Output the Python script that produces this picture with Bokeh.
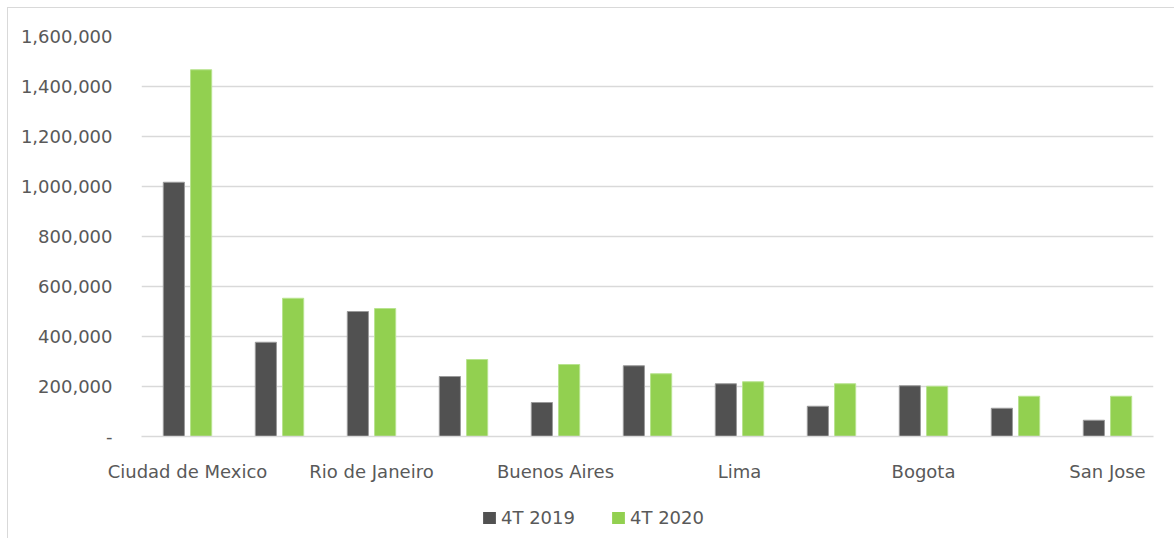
from bokeh.plotting import figure
from bokeh.layouts import column
from bokeh.models import (ColumnDataSource, FixedTicker, NumeralTickFormatter,
                          Legend, LegendItem, Range1d, InlineStyleSheet)
from bokeh.transform import dodge
from bokeh.embed import file_html
from bokeh.resources import INLINE

cities = ["Ciudad de Mexico", "Sao Paulo", "Rio de Janeiro", "Santiago", "Buenos Aires",
          "Monterrey", "Lima", "Guadalajara", "Bogota", "Panama", "San Jose"]
shown = ["Ciudad de Mexico", "Rio de Janeiro", "Buenos Aires", "Lima", "Bogota", "San Jose"]
v2019 = [1017000, 377000, 500000, 240000, 136000, 283000, 211000, 121000, 203000, 113000, 65000]
v2020 = [1467000, 553000, 512000, 308000, 288000, 251000, 219000, 211000, 201000, 161000, 161000]
series = ["4T 2019", "4T 2020"]
colors = ["#515151", "#92D050"]
yticks = [0, 200000, 400000, 600000, 800000, 1000000, 1200000, 1400000, 1600000]

idx = list(range(len(cities)))
src = ColumnDataSource(dict(i=idx, city=cities, a=v2019, b=v2020))

FONT = "DejaVu Sans"
TXT = "#595959"
FS = "18px"

p = figure(x_range=Range1d(-0.5, len(cities) - 0.5), y_range=Range1d(0, 1600000),
           width=1174, height=496, output_backend="svg", toolbar_location=None,
           min_border_left=141, min_border_right=21, min_border_top=36, min_border_bottom=60)
p.outline_line_color = None
p.background_fill_color = "white"
p.border_fill_color = "white"

r1 = p.vbar(x=dodge("i", -0.148), top="a", width=0.23, source=src,
            fill_color=colors[0], line_color="#9a9a9a", line_width=1)
r2 = p.vbar(x=dodge("i", 0.148), top="b", width=0.23, source=src,
            fill_color=colors[1], line_color="#b8e38f", line_width=1)

p.xgrid.grid_line_color = None
p.ygrid.grid_line_color = "#d9d9d9"
p.ygrid.grid_line_width = 1.5
p.yaxis.ticker = FixedTicker(ticks=yticks)
p.yaxis.formatter = NumeralTickFormatter(format="0,0")
p.yaxis.major_label_overrides = {0: "-"}
p.yaxis.axis_line_color = None
p.yaxis.major_tick_line_color = None
p.yaxis.minor_tick_line_color = None
p.yaxis.major_label_standoff = 23
p.yaxis.major_label_text_font = FONT
p.yaxis.major_label_text_font_size = FS
p.yaxis.major_label_text_color = TXT

shown_idx = [cities.index(c) for c in shown]
p.xaxis.ticker = FixedTicker(ticks=shown_idx)
p.xaxis.major_label_overrides = {i: cities[i] for i in shown_idx}
p.xaxis.axis_line_color = "#d9d9d9"
p.xaxis.axis_line_width = 1.5
p.xaxis.major_tick_line_color = None
p.xaxis.minor_tick_line_color = None
p.xaxis.major_label_standoff = 18
p.xaxis.major_label_text_font = FONT
p.xaxis.major_label_text_font_size = FS
p.xaxis.major_label_text_color = TXT

# legend strip below the chart
lf = figure(width=1174, height=42, output_backend="svg", toolbar_location=None,
            x_range=Range1d(0, 1), y_range=Range1d(0, 1),
            x_axis_type=None, y_axis_type=None,
            min_border_left=0, min_border_right=0, min_border_top=0, min_border_bottom=0)
lf.outline_line_color = None
lf.xgrid.grid_line_color = None
lf.ygrid.grid_line_color = None
l1 = lf.vbar(x=[0.5], top=[0], width=0.01, fill_color=colors[0], line_color=None)
l2 = lf.vbar(x=[0.5], top=[0], width=0.01, fill_color=colors[1], line_color=None)

legend = Legend(items=[LegendItem(label=series[0], renderers=[l1]),
                       LegendItem(label=series[1], renderers=[l2])],
                orientation="horizontal", location=(340, 10))
legend.glyph_width = 16
legend.glyph_height = 15
legend.label_standoff = 4
legend.spacing = 35
legend.border_line_color = None
legend.background_fill_alpha = 0
legend.label_text_font = FONT
legend.label_text_font_size = FS
legend.label_text_color = TXT
legend.padding = 0
legend.margin = 0
lf.add_layout(legend, "center")

frame_css = InlineStyleSheet(css="""
:host::after {
  content: "";
  position: absolute;
  left: 7px; top: 7px; right: 0; bottom: 0;
  border-top: 1.5px solid #d9d9d9;
  border-left: 1.5px solid #d9d9d9;
  pointer-events: none;
}
""")
layout = column(p, lf, spacing=0, stylesheets=[frame_css])
open("out.html", "w").write(file_html(layout, INLINE))
